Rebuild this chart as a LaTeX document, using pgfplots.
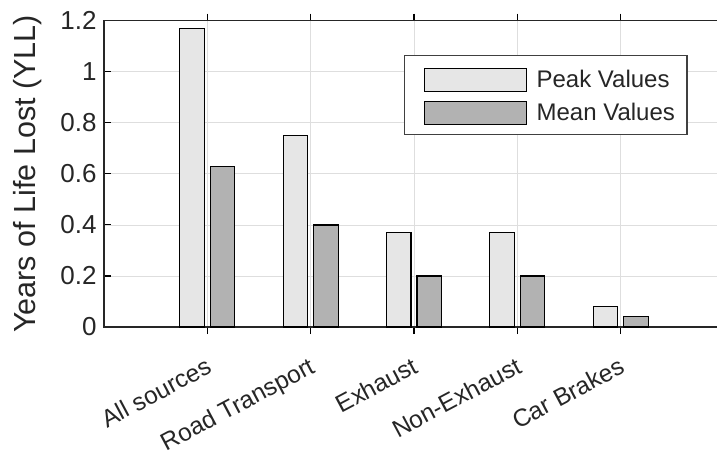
\documentclass[border=0pt]{standalone}
\usepackage{fontspec}
\setmainfont{Liberation Sans}
\usepackage{pgfplots}
\pgfplotsset{compat=1.18}
\definecolor{peakfill}{RGB}{230,230,230}
\definecolor{meanfill}{RGB}{178,178,178}
\definecolor{gridgray}{RGB}{222,222,222}
\definecolor{txt}{RGB}{38,38,38}
\begin{document}
\begin{tikzpicture}
\useasboundingbox (-104pt,-126pt) rectangle (613pt,327pt);
\begin{axis}[
  at={(0pt,0pt)}, anchor=south west,
  scale only axis, width=620pt, height=306.3pt,
  xmin=0, xmax=6, ymin=0, ymax=1.2,
  xtick={1,2,3,4,5},
  xticklabels={All sources, Road Transport, Exhaust, Non-Exhaust, Car Brakes},
  ytick={0,0.2,0.4,0.6,0.8,1,1.2},
  yticklabels={0,0.2,0.4,0.6,0.8,1,1.2},
  tick align=inside, major tick length=7pt,
  tick style={black, line width=1.1pt},
  axis line style={black!85, line width=1.5pt},
  grid=major, major grid style={gridgray, line width=0.8pt},
  ybar, bar width=0.237,
  yticklabel style={font=\fontsize{26}{30}\selectfont, text=txt, xshift=-4pt},
  xticklabel style={font=\fontsize{24.5}{28}\selectfont, text=txt,
    xshift=-2.5pt, yshift=-22pt, rotate=28, anchor=north east, inner sep=0pt},
  every axis y label/.style={at={(axis description cs:-0.1468,0.5)}, rotate=90,
    anchor=north, inner sep=0pt, font=\fontsize{30.5}{34}\selectfont, text=txt},
  ylabel={Years of Life Lost (YLL)},
  legend style={at={(0.4839,0.888)}, anchor=north west, draw=black!75,
    line width=1.2pt, fill=white, font=\fontsize{24}{28}\selectfont,
    inner xsep=12pt, inner ysep=12.5pt, row sep=12.25pt,
    nodes={inner sep=0pt, text=txt}},
  legend cell align=left,
  legend image code/.code={
    \path[draw=none, fill=none] (0pt,0pt) rectangle (120pt,11.5pt);
    \draw[#1, line width=1.2pt, overlay] (8pt,-11.5pt) rectangle (110pt,11.5pt);},
]
\addplot[draw=black, fill=peakfill, line width=1.2pt, bar shift=-0.147]
  coordinates {(1,1.17) (2,0.75) (3,0.37) (4,0.37) (5,0.08)};
\addlegendentry{Peak Values}
\addplot[draw=black, fill=meanfill, line width=1.2pt, bar shift=0.147]
  coordinates {(1,0.63) (2,0.40) (3,0.20) (4,0.20) (5,0.04)};
\addlegendentry{Mean Values}
\end{axis}
\end{tikzpicture}
\end{document}
